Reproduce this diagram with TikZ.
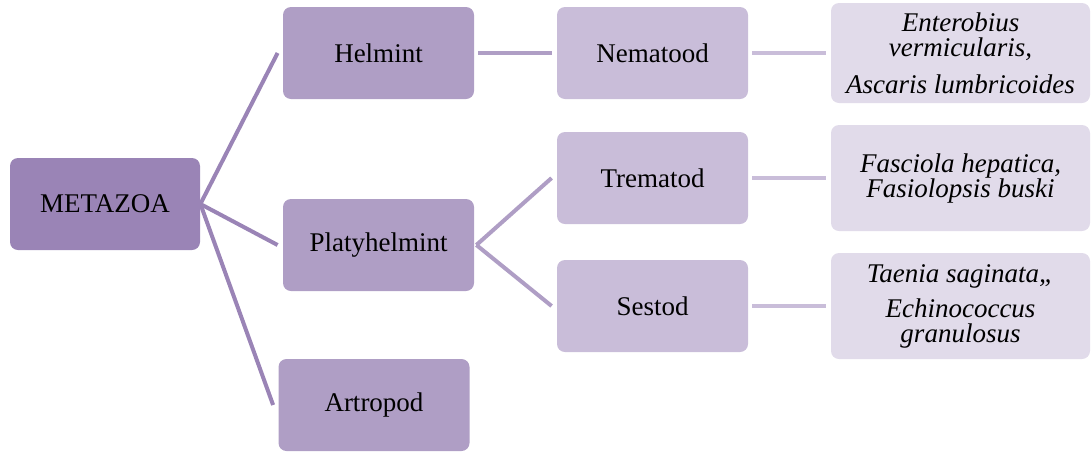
\documentclass[tikz,border=0pt]{standalone}
\usepackage{fontspec}
\setmainfont{Liberation Serif}[
  ItalicFont=Liberation Serif Italic,
  BoldFont=Liberation Serif Bold]
\usetikzlibrary{calc}
\definecolor{lvA}{HTML}{9A84B6}
\definecolor{lvB}{HTML}{AF9EC5}
\definecolor{lvC}{HTML}{C9BDD9}
\definecolor{lvD}{HTML}{E1DBEA}
\tikzset{
  box/.style={rectangle, rounded corners=4pt, inner sep=2pt, align=center,
    font=\fontsize{13.5}{12.5}\selectfont, text=black},
  boxA/.style={box, fill=lvA, minimum width=95pt, minimum height=46pt},
  boxB/.style={box, fill=lvB, minimum width=95.5pt, minimum height=46pt},
  boxC/.style={box, fill=lvC, minimum width=95.5pt, minimum height=46pt},
  boxD/.style={box, fill=lvD, minimum width=129.5pt, minimum height=53pt,
    font=\fontsize{13.5}{12.5}\selectfont\itshape},
  linkA/.style={draw=lvA, line width=2pt},
  linkB/.style={draw=lvB, line width=2pt},
  linkC/.style={draw=lvC, line width=2pt},
}
\begin{document}
\begin{tikzpicture}[x=0.5pt,y=-0.5pt]
\useasboundingbox (0,0) rectangle (1092,451);
% root
\node[boxA] (meta) at (105,204) {METAZOA};
% second level
\node[boxB] (helm) at (378.5,53) {Helmint};
\node[boxB] (platy) at (378.5,245) {Platyhelmint};
\node[boxB] (artro) at (374,405) {Artropod};
% third level
\node[boxC] (nema) at (652.5,53) {Nematood};
\node[boxC] (trema) at (652.5,178) {Trematod};
\node[boxC] (sest) at (652.5,306) {Sestod};
% species
\node[boxD, minimum height=50pt] (ent) at (960.5,53) {Enterobius\\vermicularis,\\[6pt]Ascaris lumbricoides};
\node[boxD] (fasc) at (960.5,178) {Fasciola hepatica,\\Fasiolopsis buski};
\node[boxD] (taen) at (960.5,306) {Taenia saginata,,\\[5pt]Echinococcus\\granulosus};
% connectors
\draw[linkA] (meta.east) -- ([xshift=-2.5pt]helm.west);
\draw[linkA] (meta.east) -- ([xshift=-2.5pt]platy.west);
\draw[linkA] (meta.east) -- ([xshift=-2.5pt]artro.west);
\draw[linkB] ([xshift=2pt]helm.east) -- ([xshift=-2.5pt]nema.west);
\draw[linkB] ([xshift=1pt]platy.east) -- ([xshift=-2.5pt]trema.west);
\draw[linkB] ([xshift=1pt]platy.east) -- ([xshift=-2.5pt]sest.west);
\draw[linkC] ([xshift=2pt]nema.east) -- ([xshift=-2.5pt]ent.west);
\draw[linkC] ([xshift=2pt]trema.east) -- ([xshift=-2.5pt]fasc.west);
\draw[linkC] ([xshift=2pt]sest.east) -- ([xshift=-2.5pt]taen.west);
\end{tikzpicture}
\end{document}
